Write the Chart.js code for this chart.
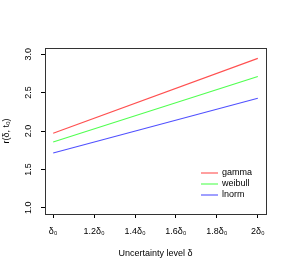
<!DOCTYPE html>
<html><head><meta charset="utf-8">
<script src="https://cdn.jsdelivr.net/npm/chart.js@4"></script>
<style>html,body{margin:0;padding:0;background:#fff}#w{width:289px;height:273px}</style>
</head><body><div id="w"><canvas id="c"></canvas></div>
<script>
const xLevels = [1, 2];
const xTickValues = [1, 1.2, 1.4, 1.6, 1.8, 2];
const xTickLabels = ['δ₀', '1.2δ₀', '1.4δ₀', '1.6δ₀', '1.8δ₀', '2δ₀'];
const yTickValues = [1, 1.5, 2, 2.5, 3];
const yTickLabels = ['1.0', '1.5', '2.0', '2.5', '3.0'];
const seriesNames = ['gamma', 'weibull', 'lnorm'];
const gammaVals = [1.97, 2.945];
const weibullVals = [1.857, 2.71];
const lnormVals = [1.714, 2.425];
const colors = ['#ff5050', '#50ff50', '#5050ff'];

const FONT = 'Liberation Sans, Arial, Helvetica, sans-serif';
const allVals = [gammaVals, weibullVals, lnormVals];
const datasets = seriesNames.map((n, i) => ({
  label: n,
  data: xLevels.map((x, j) => ({x: x, y: allVals[i][j]})),
  borderColor: colors[i], borderWidth: 1.1, pointRadius: 0, fill: false, tension: 0
}));

const boxPlugin = {
  id: 'box',
  afterDraw(chart) {
    const {ctx, chartArea: a} = chart;
    ctx.save();
    ctx.strokeStyle = '#333';
    ctx.lineWidth = 1;
    ctx.strokeRect(Math.round(a.left) + 0.5, Math.round(a.top) + 0.5, Math.round(a.right - a.left), Math.round(a.bottom - a.top));
    ctx.restore();
    // legend
    ctx.save();
    ctx.font = '9px ' + FONT;
    ctx.textBaseline = 'middle';
    ctx.textAlign = 'left';
    ctx.lineWidth = 1.1;
    const lx0 = 201, lx1 = 218, tx = 222;
    const ys = [173, 184, 195];
    seriesNames.forEach((name, i) => {
      ctx.beginPath();
      ctx.strokeStyle = colors[i];
      ctx.moveTo(lx0, ys[i]); ctx.lineTo(lx1, ys[i]);
      ctx.stroke();
      ctx.fillStyle = '#000';
      ctx.fillText(name, tx, ys[i]);
    });
    ctx.restore();
  }
};

new Chart(document.getElementById('c'), {
  type: 'line',
  data: {datasets},
  options: {
    responsive: true, maintainAspectRatio: false, animation: false,
    layout: {padding: {left: 1, right: 23, top: 48, bottom: 10}},
    plugins: {legend: {display: false}, tooltip: {enabled: false}},
    scales: {
      x: {
        type: 'linear', min: 0.96, max: 2.04,
        afterBuildTicks: s => { s.ticks = xTickValues.map(v => ({value: v})); },
        afterFit: s => { s.height = 49; },
        grid: {display: true, drawOnChartArea: false, drawTicks: true, tickLength: 4, color: '#000'},
        border: {display: false},
        ticks: {color: '#000', font: {family: FONT, size: 9}, padding: 8, maxRotation: 0, autoSkip: false,
          callback: (v, i) => xTickLabels[i]},
        title: {display: true, text: 'Uncertainty level δ', color: '#000', font: {family: FONT, size: 9}, padding: {top: 10}}
      },
      y: {
        type: 'linear', min: 0.92, max: 3.08,
        afterBuildTicks: s => { s.ticks = yTickValues.map(v => ({value: v})); },
        afterFit: s => { s.width = 44; },
        grid: {display: true, drawOnChartArea: false, drawTicks: true, tickLength: 4, color: '#000'},
        border: {display: false},
        ticks: {color: '#000', font: {family: FONT, size: 9}, padding: 6, minRotation: 90, maxRotation: 90, autoSkip: false,
          crossAlign: 'center',
          callback: (v, i) => yTickLabels[i]},
        title: {display: true, text: 'r(δ, t₀)', color: '#000', font: {family: FONT, size: 9}, padding: {top: 0}}
      }
    }
  },
  plugins: [boxPlugin]
});
</script></body></html>
